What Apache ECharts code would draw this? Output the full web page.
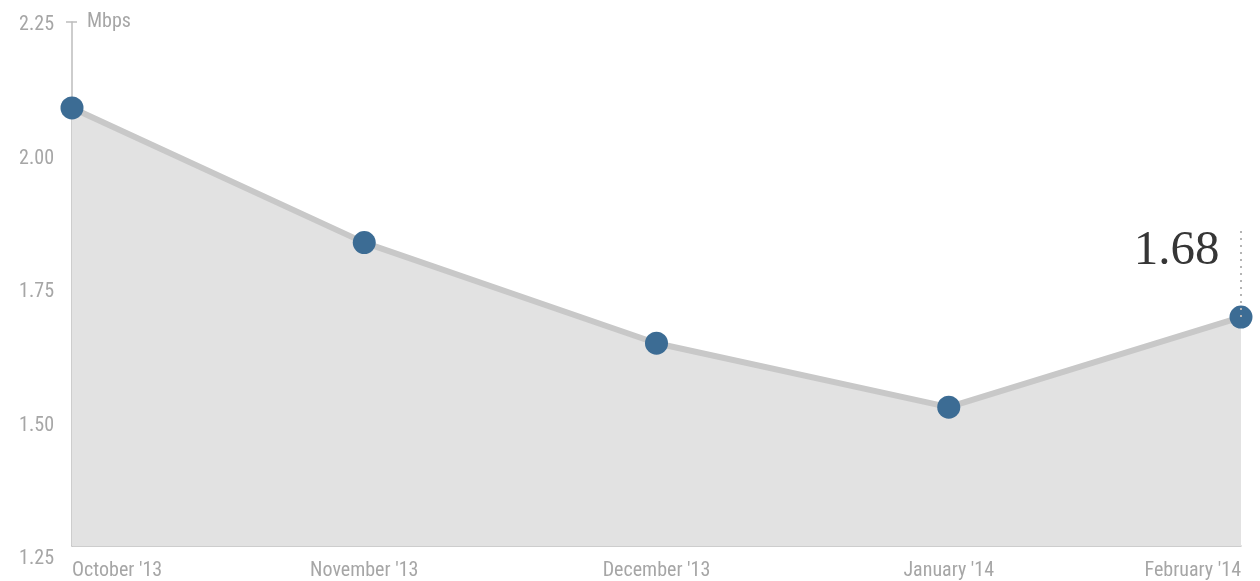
<!DOCTYPE html>
<html>
<head>
<meta charset="utf-8">
<script src="https://cdn.jsdelivr.net/npm/echarts@6/dist/echarts.min.js"></script>
<style>
html,body{margin:0;padding:0;background:#fff;}
#chart{width:1260px;height:581px;}
</style>
</head>
<body>
<div id="chart"></div>
<script>
// ---- data ----
var categories = ["October '13", "November '13", "December '13", "January '14", "February '14"];
var speedMbps = [2.086, 1.829, 1.637, 1.515, 1.687];
var yTicks = [1.25, 1.50, 1.75, 2.00, 2.25];
var unitLabel = 'Mbps';
var calloutTop = 1.86; // top end of the dotted callout line

var FONT = "'Roboto Condensed', Roboto, sans-serif";
var GREY = '#a6a6a6';
var FS = 20;
var last = categories.length - 1;

var chart = echarts.init(document.getElementById('chart'), null, {renderer: 'canvas'});
chart.setOption({
  animation: false,
  backgroundColor: '#ffffff',
  grid: [
    {left: 72, right: 19, top: 22, bottom: 35, containLabel: false},
    {left: 72, right: 19, top: 25, bottom: 22, containLabel: false}
  ],
  xAxis: [
    {
      gridIndex: 0, type: 'category', data: categories, boundaryGap: false,
      axisLine: {show: true, lineStyle: {color: '#bdbdbd', width: 1.5}},
      axisTick: {show: false},
      splitLine: {show: false},
      axisLabel: {
        show: true, color: GREY, fontFamily: FONT, fontSize: FS, margin: 15,
        alignMinLabel: 'left', alignMaxLabel: 'right', interval: 0
      }
    },
    {gridIndex: 1, type: 'category', data: categories, show: false}
  ],
  yAxis: [
    {
      gridIndex: 0, type: 'value', min: yTicks[0], max: yTicks[yTicks.length - 1], interval: 0.25,
      name: unitLabel, nameLocation: 'end', nameGap: 0,
      nameTextStyle: {color: GREY, fontFamily: FONT, fontSize: FS, align: 'left', verticalAlign: 'middle', padding: [4, 0, 0, 15]},
      axisLine: {show: true, lineStyle: {color: '#bdbdbd', width: 1.5}},
      axisTick: {show: true, length: 6, customValues: [yTicks[yTicks.length - 1]], lineStyle: {color: '#bdbdbd', width: 1.5}},
      axisLabel: {show: false},
      splitLine: {show: false}
    },
    {
      gridIndex: 0, type: 'value', min: yTicks[0], max: yTicks[yTicks.length - 1], interval: 0.25,
      position: 'left',
      axisLine: {show: false},
      axisTick: {show: true, inside: true, length: 5, customValues: [yTicks[yTicks.length - 1]], lineStyle: {color: '#bdbdbd', width: 1.5}},
      axisLabel: {show: false},
      splitLine: {show: false}
    },
    {
      gridIndex: 1, type: 'value', min: yTicks[0], max: yTicks[yTicks.length - 1], interval: 0.25,
      axisLine: {show: false}, axisTick: {show: false}, splitLine: {show: false},
      axisLabel: {
        show: true, color: GREY, fontFamily: FONT, fontSize: FS, margin: 18,
        formatter: function (v) { return v.toFixed(2); }
      }
    }
  ],
  series: [
    {
      type: 'line',
      xAxisIndex: 0, yAxisIndex: 0,
      data: speedMbps.map(function (v, i) {
        if (i === last) {
          return {
            value: v,
            label: {
              show: true, position: 'left',
              offset: [-5, -66],
              formatter: function (p) { return (Math.floor(p.value * 100) / 100).toFixed(2); },
              color: '#363636', fontFamily: "'Liberation Serif','DejaVu Serif',serif", fontSize: 49
            }
          };
        }
        return v;
      }),
      symbol: 'circle', symbolSize: 23,
      itemStyle: {color: '#3c6c94', borderWidth: 0},
      lineStyle: {color: '#c8c8c8', width: 6},
      areaStyle: {color: '#e2e2e2', opacity: 1, origin: 'start'},
      z: 3,
      markLine: {
        silent: true, symbol: 'none',
        lineStyle: {type: [2, 5], color: '#b4b4b4', width: 2},
        label: {show: false},
        data: [[
          {coord: [categories[last], speedMbps[last]]},
          {coord: [categories[last], calloutTop]}
        ]]
      }
    }
  ]
});
</script>
</body>
</html>
